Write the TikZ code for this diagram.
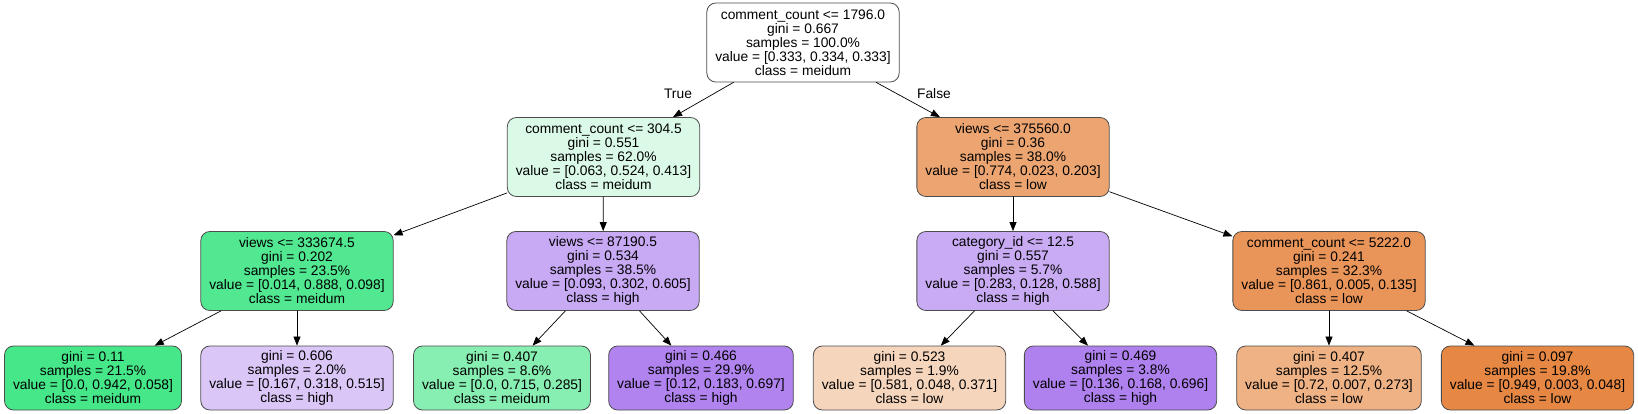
\documentclass[tikz,border=0pt]{standalone}
\usepackage{fontspec}
\setmainfont{Liberation Sans}
\usepackage{tikz}
\usetikzlibrary{arrows.meta}

\definecolor{cRoot}{RGB}{255,255,255}
\definecolor{cMidA}{RGB}{218,250,231}
\definecolor{cLowA}{RGB}{236,165,113}
\definecolor{cMidB}{RGB}{82,232,145}
\definecolor{cHighA}{RGB}{200,169,244}
\definecolor{cHighB}{RGB}{201,171,244}
\definecolor{cLowB}{RGB}{233,149,89}
\definecolor{cMidC}{RGB}{69,231,137}
\definecolor{cHighC}{RGB}{219,198,248}
\definecolor{cMidD}{RGB}{136,239,179}
\definecolor{cHighD}{RGB}{176,131,239}
\definecolor{cLowC}{RGB}{246,213,189}
\definecolor{cHighE}{RGB}{175,129,239}
\definecolor{cLowD}{RGB}{239,178,133}
\definecolor{cLowE}{RGB}{230,136,68}

\tikzset{
  treenode/.style={draw=black!70, line width=0.8pt, rounded corners=9pt,
    align=center, inner xsep=8.5pt, inner ysep=0pt,
    font=\fontsize{13.8}{14}\selectfont},
  split/.style={treenode, minimum height=79pt},
  leaf/.style={treenode, minimum height=64pt},
  edgelbl/.style={font=\fontsize{13.8}{14}\selectfont, inner sep=0pt}
}

\begin{document}
\begin{tikzpicture}[line cap=round,line join=round,>={Triangle[length=9pt,width=7pt]},x=1pt,y=1pt]
\useasboundingbox (0,0) rectangle (1638,-414);
% root and first split
\node[split, fill=cRoot] (root) at (803,-42.5) {comment\_count <= 1796.0\\gini = 0.667\\samples = 100.0\%\\value = [0.333, 0.334, 0.333]\\class = meidum};
\node[split, fill=cMidA] (ccA) at (603.5,-157) {comment\_count <= 304.5\\gini = 0.551\\samples = 62.0\%\\value = [0.063, 0.524, 0.413]\\class = meidum};
\node[split, fill=cLowA] (viewsA) at (1013,-157) {views <= 375560.0\\gini = 0.36\\samples = 38.0\%\\value = [0.774, 0.023, 0.203]\\class = low};
% second level
\node[split, fill=cMidB] (viewsB) at (297,-271) {views <= 333674.5\\gini = 0.202\\samples = 23.5\%\\value = [0.014, 0.888, 0.098]\\class = meidum};
\node[split, fill=cHighA] (viewsC) at (603,-271) {views <= 87190.5\\gini = 0.534\\samples = 38.5\%\\value = [0.093, 0.302, 0.605]\\class = high};
\node[split, fill=cHighB] (catid) at (1013,-271) {category\_id <= 12.5\\gini = 0.557\\samples = 5.7\%\\value = [0.283, 0.128, 0.588]\\class = high};
\node[split, fill=cLowB] (ccB) at (1329,-271) {comment\_count <= 5222.0\\gini = 0.241\\samples = 32.3\%\\value = [0.861, 0.005, 0.135]\\class = low};
% leaves
\node[leaf, fill=cMidC] (leafA) at (93,-378) {gini = 0.11\\samples = 21.5\%\\value = [0.0, 0.942, 0.058]\\class = meidum};
\node[leaf, fill=cHighC] (leafB) at (297,-378) {gini = 0.606\\samples = 2.0\%\\value = [0.167, 0.318, 0.515]\\class = high};
\node[leaf, fill=cMidD] (leafC) at (502,-378) {gini = 0.407\\samples = 8.6\%\\value = [0.0, 0.715, 0.285]\\class = meidum};
\node[leaf, fill=cHighD] (leafD) at (701,-378) {gini = 0.466\\samples = 29.9\%\\value = [0.12, 0.183, 0.697]\\class = high};
\node[leaf, fill=cLowC] (leafE) at (909.5,-378) {gini = 0.523\\samples = 1.9\%\\value = [0.581, 0.048, 0.371]\\class = low};
\node[leaf, fill=cHighE] (leafF) at (1120.5,-378) {gini = 0.469\\samples = 3.8\%\\value = [0.136, 0.168, 0.696]\\class = high};
\node[leaf, fill=cLowD] (leafG) at (1329,-378) {gini = 0.407\\samples = 12.5\%\\value = [0.72, 0.007, 0.273]\\class = low};
\node[leaf, fill=cLowE] (leafH) at (1537.5,-378) {gini = 0.097\\samples = 19.8\%\\value = [0.949, 0.003, 0.048]\\class = low};
% edges
\draw [->, line width=0.7pt] (root) -- (ccA);
\draw [->, line width=0.7pt] (root) -- (viewsA);
\draw [->, line width=0.7pt] (ccA) -- (viewsB);
\draw [->, line width=0.7pt] (ccA) -- (viewsC);
\draw [->, line width=0.7pt] (viewsA) -- (catid);
\draw [->, line width=0.7pt] (viewsA) -- (ccB);
\draw [->, line width=0.7pt] (viewsB) -- (leafA);
\draw [->, line width=0.7pt] (viewsB) -- (leafB);
\draw [->, line width=0.7pt] (viewsC) -- (leafC);
\draw [->, line width=0.7pt] (viewsC) -- (leafD);
\draw [->, line width=0.7pt] (catid) -- (leafE);
\draw [->, line width=0.7pt] (catid) -- (leafF);
\draw [->, line width=0.7pt] (ccB) -- (leafG);
\draw [->, line width=0.7pt] (ccB) -- (leafH);
\node[edgelbl] (lbltrue) at (678,-94) {True};
\node[edgelbl] (lblfalse) at (934,-94) {False};
\end{tikzpicture}
\end{document}
